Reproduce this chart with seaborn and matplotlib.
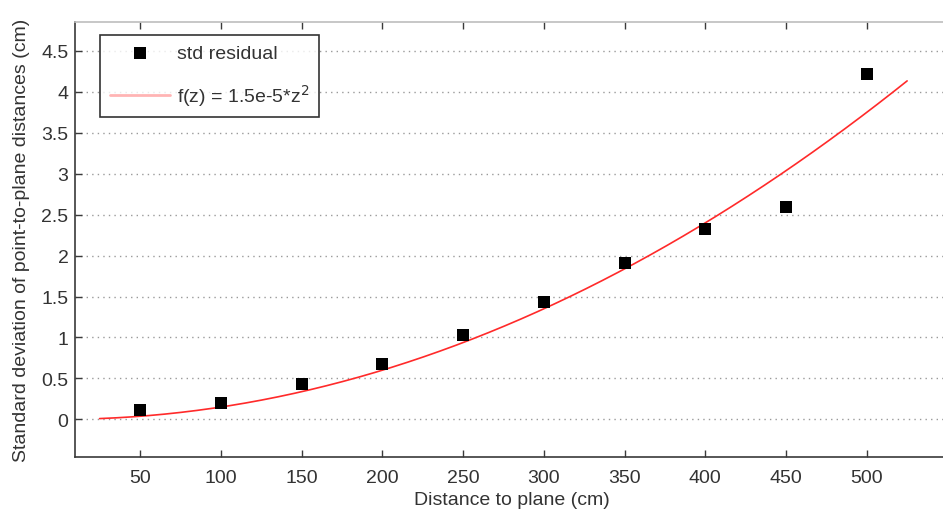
import numpy as np
import pandas as pd
import matplotlib
matplotlib.use("Agg")
import matplotlib.pyplot as plt
import seaborn as sns

# Measured spread of point-to-plane residuals at each distance
distance_cm = [50, 100, 150, 200, 250, 300, 350, 400, 450, 500]
std_residual = [0.12, 0.20, 0.43, 0.67, 1.03, 1.43, 1.91, 2.32, 2.60, 4.22]

# Quadratic noise model f(z) = a * z^2
fit_coeff = 1.5e-5
fit_range = (25, 525)

xticks = [50, 100, 150, 200, 250, 300, 350, 400, 450, 500]
yticks = [0, 0.5, 1, 1.5, 2, 2.5, 3, 3.5, 4, 4.5]
ytick_labels = ["0", "0.5", "1", "1.5", "2", "2.5", "3", "3.5", "4", "4.5"]

FS = 14
TXT = "#333333"

sns.set_theme(style="white")
plt.rcParams["font.family"] = ["Liberation Sans", "DejaVu Sans"]

fig = plt.figure(figsize=(9.43, 5.10), dpi=100)
ax = fig.add_axes([75.4 / 943, 52 / 510, (947.5 - 75.4) / 943, (458 - 22.5) / 510])

pts = pd.DataFrame({"z": distance_cm, "s": std_residual})
z = np.linspace(fit_range[0], fit_range[1], 300)
fit = pd.DataFrame({"z": z, "f": fit_coeff * z ** 2})

sns.scatterplot(data=pts, x="z", y="s", ax=ax, marker="s", s=70, color="black",
                edgecolor="black", linewidth=0, label="std residual", zorder=3)
sns.lineplot(data=fit, x="z", y="f", ax=ax, color="#ff2a2a", linewidth=1.2,
             label="f(z) = 1.5e-5*z$^2$", zorder=2)

ax.set_xlim(10, 550)
ax.set_ylim(-0.46, 4.86)
ax.set_xticks(xticks)
ax.set_yticks(yticks)
ax.set_yticklabels(ytick_labels)

ax.yaxis.grid(True, linestyle=(0, (1, 3)), color="#9a9a9a", linewidth=1.0)
ax.xaxis.grid(False)

for side in ["left", "bottom"]:
    ax.spines[side].set_color("#3a3a3a")
    ax.spines[side].set_linewidth(1.2)
ax.spines["top"].set_color("#bdbdbd")
ax.spines["top"].set_linewidth(1.2)
ax.spines["right"].set_visible(False)

ax.tick_params(axis="both", direction="in", length=5, width=1, colors="#3a3a3a",
               labelsize=FS, labelcolor=TXT, top=True, bottom=True, left=True, right=False)
ax.tick_params(axis="x", pad=9)
ax.tick_params(axis="y", pad=5)

ax.set_xlabel("Distance to plane (cm)", fontsize=FS, color=TXT, labelpad=3)
ax.set_ylabel("Standard deviation of point-to-plane distances (cm)", fontsize=FS,
              color=TXT, labelpad=8)

leg = ax.legend(loc="upper left", bbox_to_anchor=(0.028, 0.969), frameon=True,
                fancybox=False, edgecolor="black", fontsize=FS, borderpad=0.5,
                labelspacing=1.0, handlelength=3.1, handletextpad=0.35,
                borderaxespad=0)
leg.get_frame().set_linewidth(1.2)
for t in leg.get_texts():
    t.set_color(TXT)
leg.legend_handles[1].set_color("#ffb4b4")
leg.legend_handles[1].set_linewidth(2.0)

fig.savefig("out.png", dpi=100)
